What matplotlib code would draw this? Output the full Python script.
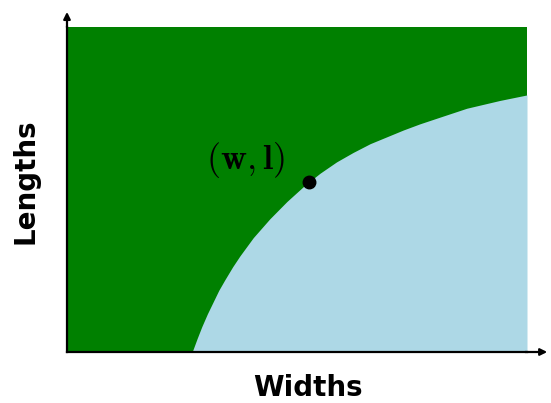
import numpy as np
import matplotlib
matplotlib.use("Agg")
import matplotlib.pyplot as plt

# boundary curve (width, length)
widths = [2.72, 2.83, 2.93, 3.05, 3.18, 3.30, 3.43, 3.60, 3.76, 4.05, 4.41,
          4.78, 5.17, 5.50, 5.86, 6.22, 6.59, 6.95, 7.31, 7.67, 8.20, 8.69,
          9.41, 10.0]
lengths = [0.0, 0.42, 0.78, 1.17, 1.55, 1.90, 2.22, 2.62, 2.96, 3.52, 4.10,
           4.63, 5.13, 5.50, 5.85, 6.14, 6.41, 6.62, 6.83, 7.02, 7.27, 7.50,
           7.74, 7.91]
point_w, point_l = 5.26, 5.22
point_label = r"$(\mathbf{w},\mathbf{l})$"

plt.rcParams['mathtext.fontset'] = 'cm'

W, H = 551, 403
fig = plt.figure(figsize=(W / 100, H / 100), dpi=100)
ax = fig.add_axes([67 / W, 1 - 352 / H, (527 - 67) / W, (352 - 27) / H])
ax.set_xlim(0, 10)
ax.set_ylim(0, 10)
ax.set_facecolor('green')
ax.fill_between(widths, 0, lengths, color='lightblue', lw=0)

ax.plot(point_w, point_l, 'o', color='black', markersize=9, zorder=5)
ax.text(point_w - 1.39, point_l + 0.7, point_label, fontsize=26,
        ha='center', va='center')

for s in ['top', 'right']:
    ax.spines[s].set_visible(False)
for s in ['left', 'bottom']:
    ax.spines[s].set_linewidth(1.6)
ax.set_xticks([])
ax.set_yticks([])

# axis arrows
arrow = dict(arrowstyle='-|>', color='black', lw=1.6, mutation_scale=10)
ax.annotate('', xy=(10.5, 0), xytext=(9.9, 0), arrowprops=arrow,
            annotation_clip=False)
ax.annotate('', xy=(0, 10.55), xytext=(0, 9.9), arrowprops=arrow,
            annotation_clip=False)

fig.text(308 / W, 1 - 388 / H, 'Widths', fontsize=20, fontweight='bold',
         ha='center', va='center')
fig.text(25 / W, 1 - 181 / H, 'Lengths', fontsize=20, fontweight='bold',
         ha='center', va='center', rotation=90)

fig.savefig('out.png', dpi=100)
